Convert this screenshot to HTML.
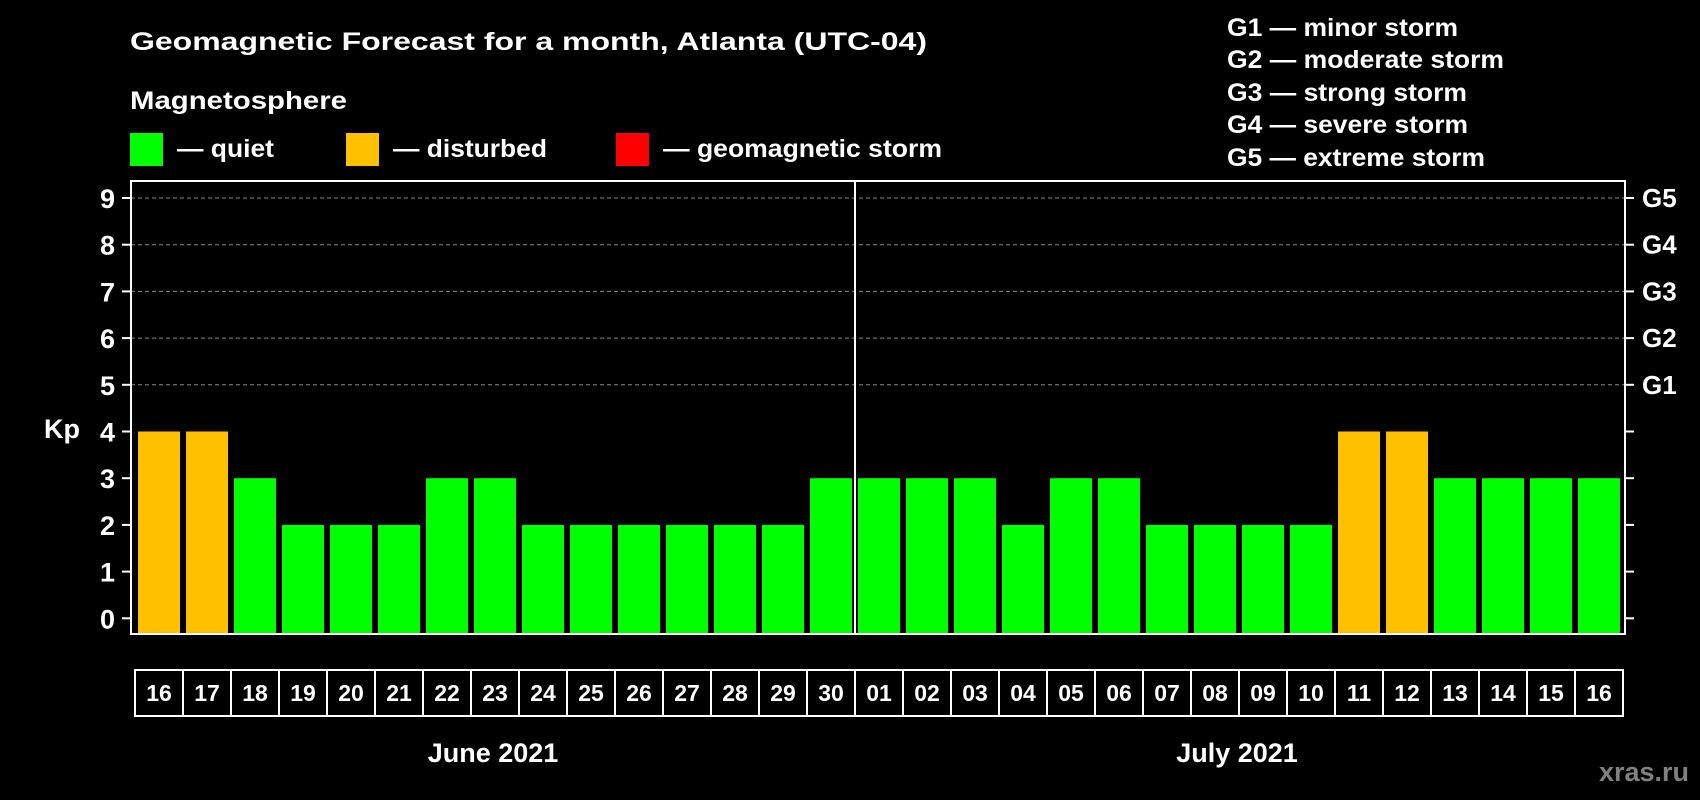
<!DOCTYPE html>
<html><head><meta charset="utf-8"><style>
html,body{margin:0;padding:0;background:#000;}
svg{display:block;font-family:"Liberation Sans",Arial,sans-serif;font-weight:bold;}
</style></head><body>
<svg id="chart" width="1700" height="800" viewBox="0 0 1700 800" xmlns="http://www.w3.org/2000/svg">
<rect x="0" y="0" width="1700" height="800" fill="#000"/>
<text x="130" y="50" fill="#fff" font-size="25" textLength="797" lengthAdjust="spacingAndGlyphs">Geomagnetic Forecast for a month, Atlanta (UTC-04)</text>
<text x="130" y="109" fill="#fff" font-size="25" textLength="217" lengthAdjust="spacingAndGlyphs">Magnetosphere</text>
<g>
<rect x="130" y="133" width="33" height="33" fill="#00ff00"/>
<text x="177" y="157" fill="#fff" font-size="25" textLength="97" lengthAdjust="spacingAndGlyphs">— quiet</text></g>
<g>
<rect x="346" y="133" width="33" height="33" fill="#ffc000"/>
<text x="393" y="157" fill="#fff" font-size="25" textLength="154" lengthAdjust="spacingAndGlyphs">— disturbed</text></g>
<g>
<rect x="616" y="133" width="33" height="33" fill="#ff0000"/>
<text x="663" y="157" fill="#fff" font-size="25" textLength="279" lengthAdjust="spacingAndGlyphs">— geomagnetic storm</text></g>
<g fill="#fff" font-size="25">
<text x="1227" y="36" textLength="231" lengthAdjust="spacingAndGlyphs">G1 — minor storm</text>
<text x="1227" y="68" textLength="277" lengthAdjust="spacingAndGlyphs">G2 — moderate storm</text>
<text x="1227" y="101" textLength="240" lengthAdjust="spacingAndGlyphs">G3 — strong storm</text>
<text x="1227" y="133" textLength="241" lengthAdjust="spacingAndGlyphs">G4 — severe storm</text>
<text x="1227" y="166" textLength="258" lengthAdjust="spacingAndGlyphs">G5 — extreme storm</text>
</g>
<g id="grid"></g>
<g id="bars"></g>
<g id="axes"></g>
<text x="62" y="438" fill="#fff" font-size="27" text-anchor="middle">Kp</text>
<text x="493" y="762" fill="#fff" font-size="27" text-anchor="middle">June 2021</text>
<text x="1237" y="762" fill="#fff" font-size="27" text-anchor="middle">July 2021</text>
<text x="1689" y="781" fill="#808080" font-size="27" text-anchor="end">xras.ru</text>
</svg>
<script>
const days = ["16","17","18","19","20","21","22","23","24","25","26","27","28","29","30","01","02","03","04","05","06","07","08","09","10","11","12","13","14","15","16"];
const kp = [4,4,3,2,2,2,3,3,2,2,2,2,2,2,3,3,3,3,2,3,3,2,2,2,2,4,4,3,3,3,3];
const yTicks = [0,1,2,3,4,5,6,7,8,9];
const gLabels = ["G1","G2","G3","G4","G5"];
const gLevels = [5,6,7,8,9];
const monthSplit = 15;

const NS = "http://www.w3.org/2000/svg";
const plotL = 131, plotR = 1625, plotT = 181, plotB = 634;
const x0 = 138, step = 48, barW = 42;
function y(v){ return 618.3 - v * (618.3 - 198) / 9; }
function xb(i){ return x0 + i * step; }
function mk(tag, attrs, parent){ const e = document.createElementNS(NS, tag); for (const k in attrs) e.setAttribute(k, attrs[k]); parent.appendChild(e); return e; }
const grid = document.getElementById('grid'), bars = document.getElementById('bars'), axes = document.getElementById('axes');

gLevels.forEach((v, i) => {
  const l = mk('line', {x1: plotL, x2: plotR, y1: y(v), y2: y(v), stroke: '#888', 'stroke-width': 1, 'stroke-dasharray': '4,3'}, grid);
  
  
  const t = mk('text', {x: 1642, y: y(v) + 9, fill: '#fff', 'font-size': 26}, axes);
  t.textContent = gLabels[i];
  
  
});

kp.forEach((v, i) => {
  const r = mk('rect', {x: xb(i), y: y(v), width: barW, height: plotB - y(v), fill: v >= 5 ? '#ff0000' : (v >= 4 ? '#ffc000' : '#00ff00')}, bars);
  
  
});

const frame = mk('rect', {x: plotL, y: plotT, width: plotR - plotL, height: plotB - plotT, fill: 'none', stroke: '#fff', 'stroke-width': 2}, axes);



const sx = xb(monthSplit) - (step - barW) / 2;
const sep = mk('line', {x1: sx, x2: sx, y1: plotT, y2: plotB, stroke: '#fff', 'stroke-width': 2}, axes);



yTicks.forEach(v => {
  mk('line', {x1: 122, x2: plotL, y1: y(v), y2: y(v), stroke: '#fff', 'stroke-width': 2}, axes);
  mk('line', {x1: plotR, x2: 1634, y1: y(v), y2: y(v), stroke: '#fff', 'stroke-width': 2}, axes);
  const t = mk('text', {x: 115, y: y(v) + 10, fill: '#fff', 'font-size': 27, 'text-anchor': 'end'}, axes);
  t.textContent = v;
  
  
});

days.forEach((d, i) => {
  const cx = xb(i) - 3;
  const c = mk('rect', {x: cx, y: 670, width: step, height: 46, fill: 'none', stroke: '#fff', 'stroke-width': 2}, axes);
  
  
  const t = mk('text', {x: xb(i) + barW / 2, y: 701, fill: '#fff', 'font-size': 23, 'text-anchor': 'middle'}, axes);
  t.textContent = d;
  
  
});
</script>
</body></html>
